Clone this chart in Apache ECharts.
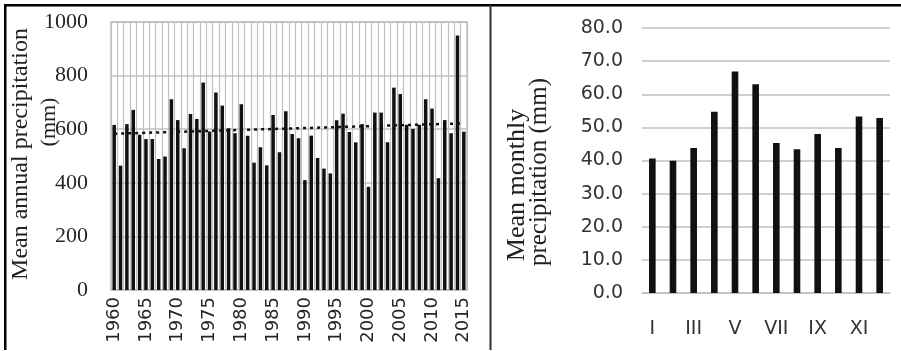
<!DOCTYPE html>
<html>
<head>
<meta charset="utf-8">
<title>precipitation</title>
<script src="https://cdn.jsdelivr.net/npm/echarts@6/dist/echarts.min.js"></script>
<style>
  html, body { margin: 0; padding: 0; background: #fff; }
  #chart { position: absolute; left: 0; top: 0; width: 901px; height: 351px; }
</style>
</head>
<body>
<div id="chart"></div>
<script>
// annual totals 1960-2015 (mm)
var years = [];
for (var y = 1960; y <= 2015; y++) years.push(String(y));
var annual = [616, 464, 619, 672, 579, 563, 563, 489, 498, 712,
              634, 529, 657, 638, 774, 591, 737, 688, 604, 585,
              693, 576, 475, 533, 465, 653, 514, 667, 582, 566,
              410, 576, 493, 453, 435, 633, 658, 590, 551, 619,
              385, 662, 662, 551, 755, 731, 617, 601, 617, 712,
              677, 417, 634, 585, 950, 591];
// linear trend, value at first and last year
var trendEnds = [583, 622];

// monthly means (mm)
var months = ['I', 'II', 'III', 'IV', 'V', 'VI', 'VII', 'VIII', 'IX', 'X', 'XI', 'XII'];
var monthly = [40.6, 39.9, 43.8, 54.7, 66.9, 63.0, 45.3, 43.4, 48.0, 43.8, 53.3, 52.8];

var serif = 'Liberation Serif';
var sans = 'DejaVu Sans';
var grey = '#c0c0c0';

var myChart = echarts.init(document.getElementById('chart'));
myChart.setOption({
  animation: false,
  grid: [
    { left: 111, top: 22, width: 356, height: 268, show: true, borderColor: grey, borderWidth: 1.5 },
    { left: 642, top: 28, width: 248, height: 265 }
  ],
  xAxis: [
    {
      gridIndex: 0,
      type: 'category',
      data: years,
      axisLine: { lineStyle: { color: grey, width: 1.5 } },
      axisTick: { show: false },
      splitLine: { show: true, interval: 0, lineStyle: { color: grey, width: 1.2 } },
      axisLabel: { interval: 4, rotate: 90, margin: 7, fontFamily: sans, fontSize: 18, color: '#262626' }
    },
    {
      gridIndex: 1,
      type: 'category',
      data: months,
      axisLine: { lineStyle: { color: grey, width: 1.5 } },
      axisTick: { show: false },
      axisLabel: { interval: 1, margin: 27, fontFamily: sans, fontSize: 19, color: '#333' }
    }
  ],
  yAxis: [
    {
      gridIndex: 0,
      type: 'value',
      min: 0,
      max: 1000,
      interval: 200,
      axisLine: { show: false },
      axisTick: { show: false },
      splitLine: { lineStyle: { color: grey, width: 1.5 } },
      axisLabel: {
        margin: 23, fontFamily: serif, fontSize: 22, color: '#262626',
        formatter: function (v) { return String(v); }
      }
    },
    {
      gridIndex: 1,
      type: 'value',
      min: 0,
      max: 80,
      interval: 10,
      axisLine: { show: false },
      axisTick: { show: false },
      splitLine: { lineStyle: { color: grey, width: 1.5 } },
      axisLabel: {
        margin: 19, fontFamily: sans, fontSize: 19, color: '#333',
        formatter: function (v) { return v.toFixed(1); }
      }
    }
  ],
  series: [
    {
      type: 'bar',
      xAxisIndex: 0,
      yAxisIndex: 0,
      data: annual,
      barWidth: '55%',
      itemStyle: { color: '#111' },
      // dotted linear trend
      markLine: {
        silent: true,
        symbol: 'none',
        label: { show: false },
        lineStyle: { color: '#111', width: 2.5, type: [3, 4] },
        data: [[
          { coord: [years[0], trendEnds[0]] },
          { coord: [years[years.length - 1], trendEnds[1]] }
        ]]
      }
    },
    {
      type: 'bar',
      xAxisIndex: 1,
      yAxisIndex: 1,
      data: monthly,
      barWidth: '32%',
      itemStyle: { color: '#111' }
    }
  ],
  graphic: [
    // frame lines
    { type: 'rect', shape: { x: 4, y: 4, width: 897, height: 2.5 }, style: { fill: '#000' } },
    { type: 'rect', shape: { x: 4, y: 4, width: 2.5, height: 346 }, style: { fill: '#000' } },
    { type: 'rect', shape: { x: 489.5, y: 5, width: 2, height: 345 }, style: { fill: '#333' } },
    // axis titles
    {
      type: 'text', x: 21, y: 154, rotation: Math.PI / 2,
      style: { text: 'Mean annual precipitation', font: '24px ' + serif, fill: '#222', textAlign: 'center', textVerticalAlign: 'middle' }
    },
    {
      type: 'text', x: 49, y: 122, rotation: Math.PI / 2,
      style: { text: '(mm)', font: '22px ' + serif, fill: '#222', textAlign: 'center', textVerticalAlign: 'middle' }
    },
    {
      type: 'text', x: 517, y: 185, rotation: Math.PI / 2,
      style: { text: 'Mean monthly', font: '26px ' + serif, fill: '#222', textAlign: 'center', textVerticalAlign: 'middle' }
    },
    {
      type: 'text', x: 539, y: 172, rotation: Math.PI / 2,
      style: { text: 'precipitation (mm)', font: '25px ' + serif, fill: '#222', textAlign: 'center', textVerticalAlign: 'middle' }
    }
  ]
});
</script>
</body>
</html>
